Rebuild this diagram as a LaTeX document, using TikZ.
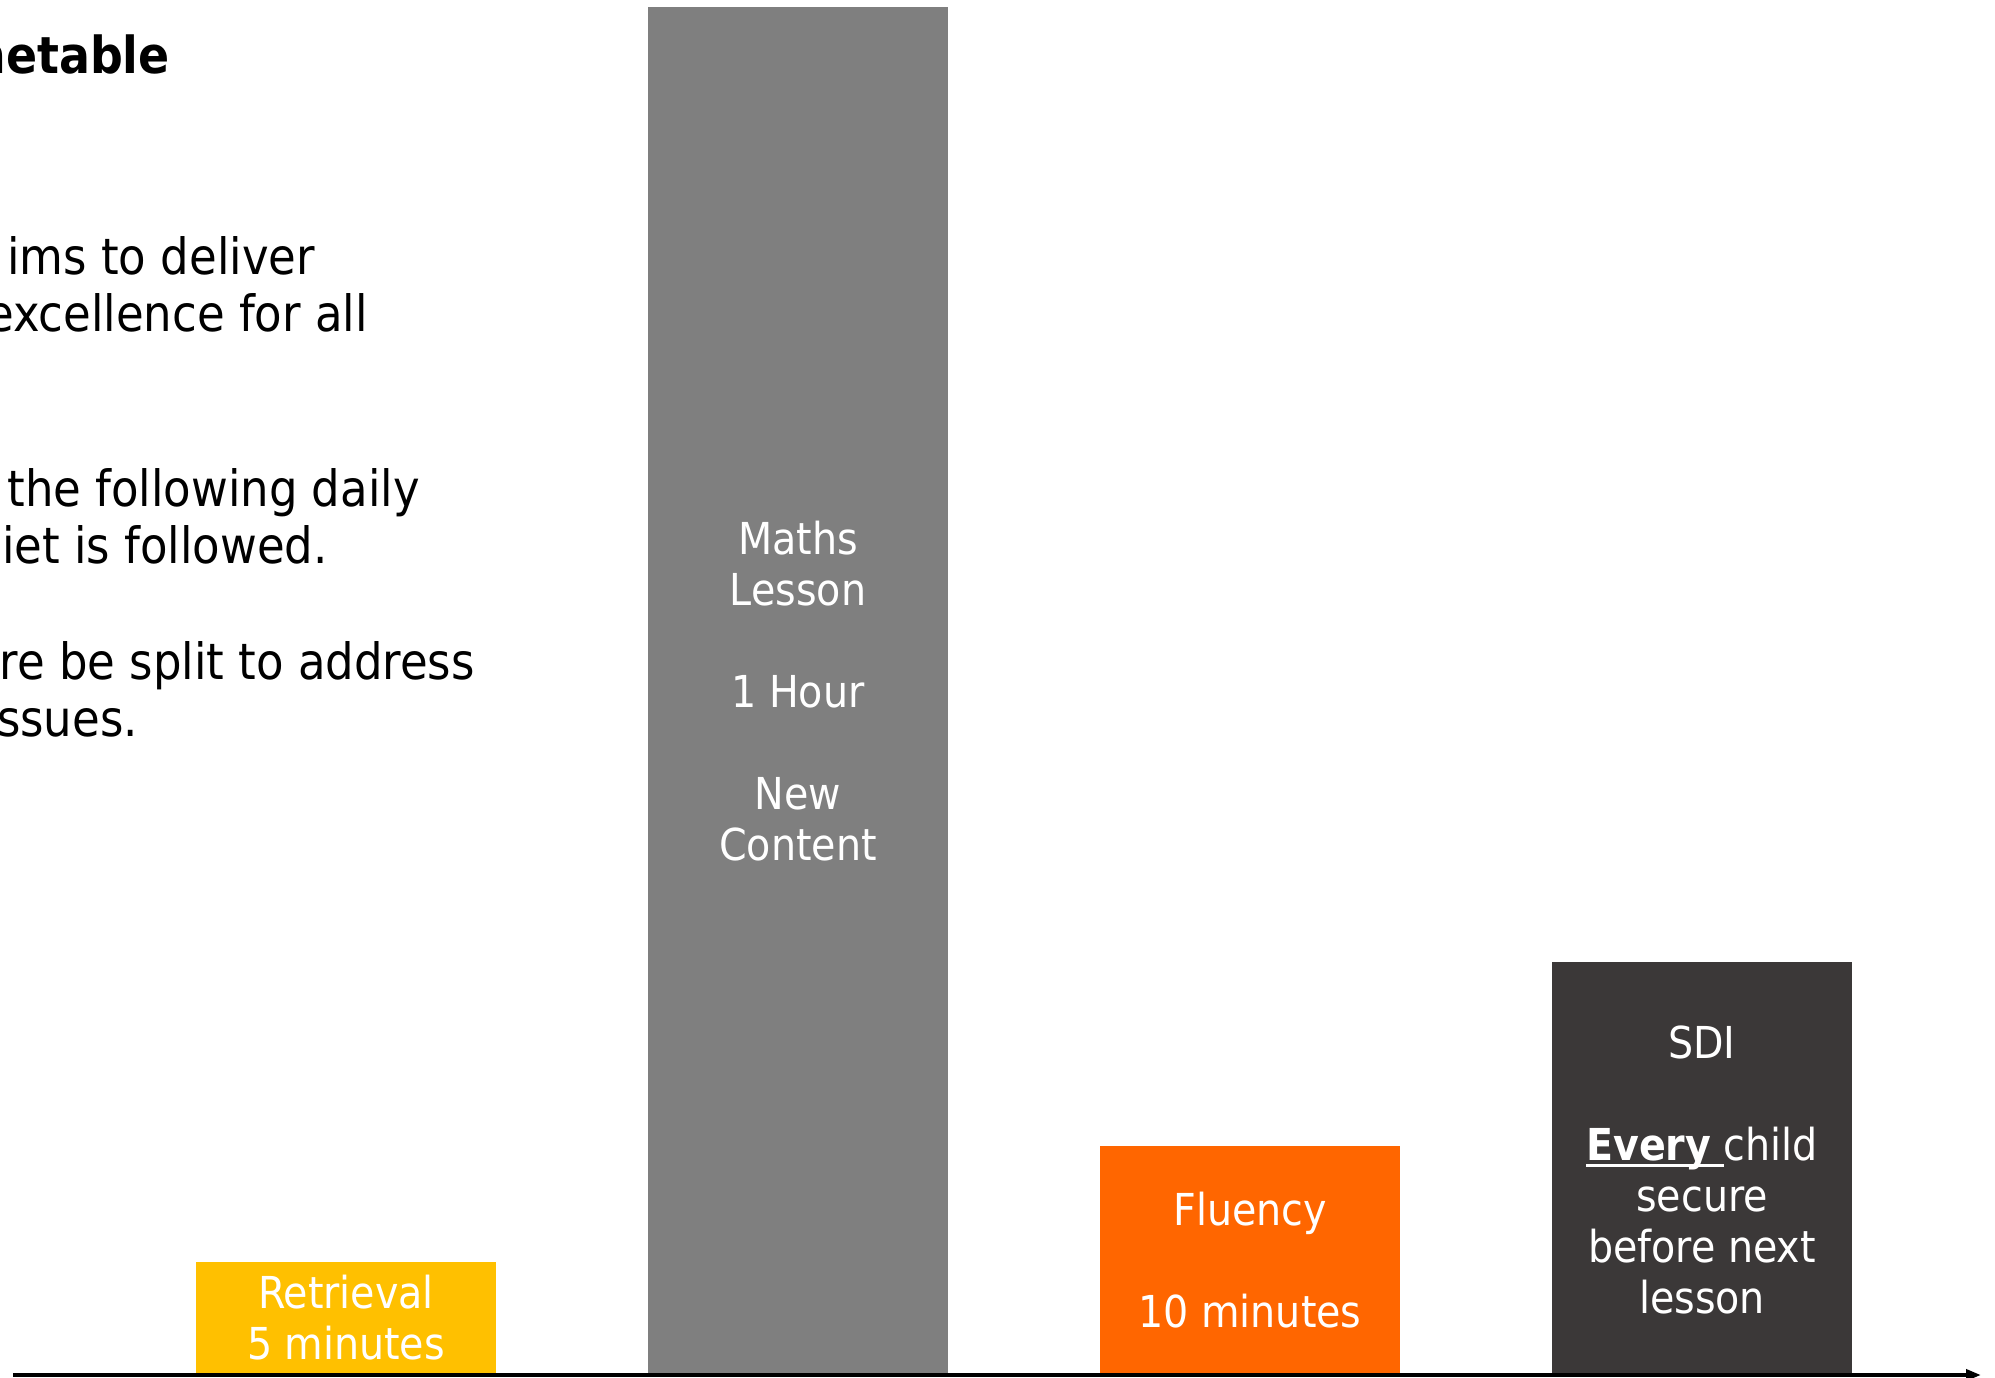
\documentclass[tikz,border=0pt]{standalone}
\usepackage{fontspec}
\setmainfont{DejaVu Sans Condensed}
\usepackage{tikz}
\usetikzlibrary{arrows.meta}

\definecolor{retrievalCol}{HTML}{FFC000}
\definecolor{mathsCol}{HTML}{7F7F7F}
\definecolor{fluencyCol}{HTML}{FF6600}
\definecolor{sdiCol}{HTML}{3B3838}

\newcommand{\ulWord}[1]{\setbox0\hbox{#1}\rlap{\rule[-7pt]{\wd0}{3pt}}\box0}

\begin{document}
\begin{tikzpicture}[
	x=1pt, y=-1pt,
	barText/.style={text=white, align=center, anchor=base, inner sep=0pt, font=\fontsize{44}{51}\selectfont},
	bodyText/.style={anchor=base east, inner sep=0pt, font=\fontsize{50}{57}\selectfont},
	axis/.style={line width=4pt, -{Triangle[length=15pt, width=11pt]}}
	]
	
	\useasboundingbox (0, 0) rectangle (1995, 1378);
	
	\coordinate (axisStart) at (13, 1375);
	\coordinate (axisEnd) at (1981, 1375);
	
	% Text
	\node[bodyText, font=\fontsize{51}{57}\selectfont\bfseries] (title) at (170, 74) {netable};
	\node[bodyText] (aimsA) at (315, 274) {ims to deliver};
	\node[bodyText] (aimsB) at (368, 331) {excellence for all};
	\node[bodyText] (dailyA) at (420, 506) {the following daily};
	\node[bodyText] (dailyB) at (328, 563) {iet is followed.};
	\node[bodyText] (splitA) at (475, 679) {re be split to address};
	\node[bodyText] (splitB) at (138, 736) {ssues.};
	
	% Retrieval (base = last line)
	\fill[retrievalCol] (196, 1262) rectangle (496, 1375);
	\node[barText] (retrieval) at (346, 1359) {Retrieval\\5 minutes};
	
	% Maths lesson
	\fill[mathsCol] (648, 7) rectangle (948, 1375);
	\node[barText] (maths) at (798, 860) {Maths\\Lesson\\[51pt]1 Hour\\[51pt]New\\Content};
	
	% Fluency
	\fill[fluencyCol] (1100, 1146) rectangle (1400, 1375);
	\node[barText] (fluency) at (1250, 1327) {Fluency\\[51pt]10 minutes};
	
	% SDI
	\fill[sdiCol] (1552, 962) rectangle (1852, 1375);
	\node[barText] (sdi) at (1702, 1313) {SDI\\[51pt]\ulWord{\textbf{Every}\ }child\\secure\\before next\\lesson};
	
	\draw[axis] (axisStart) -- (axisEnd);
\end{tikzpicture}
\end{document}
